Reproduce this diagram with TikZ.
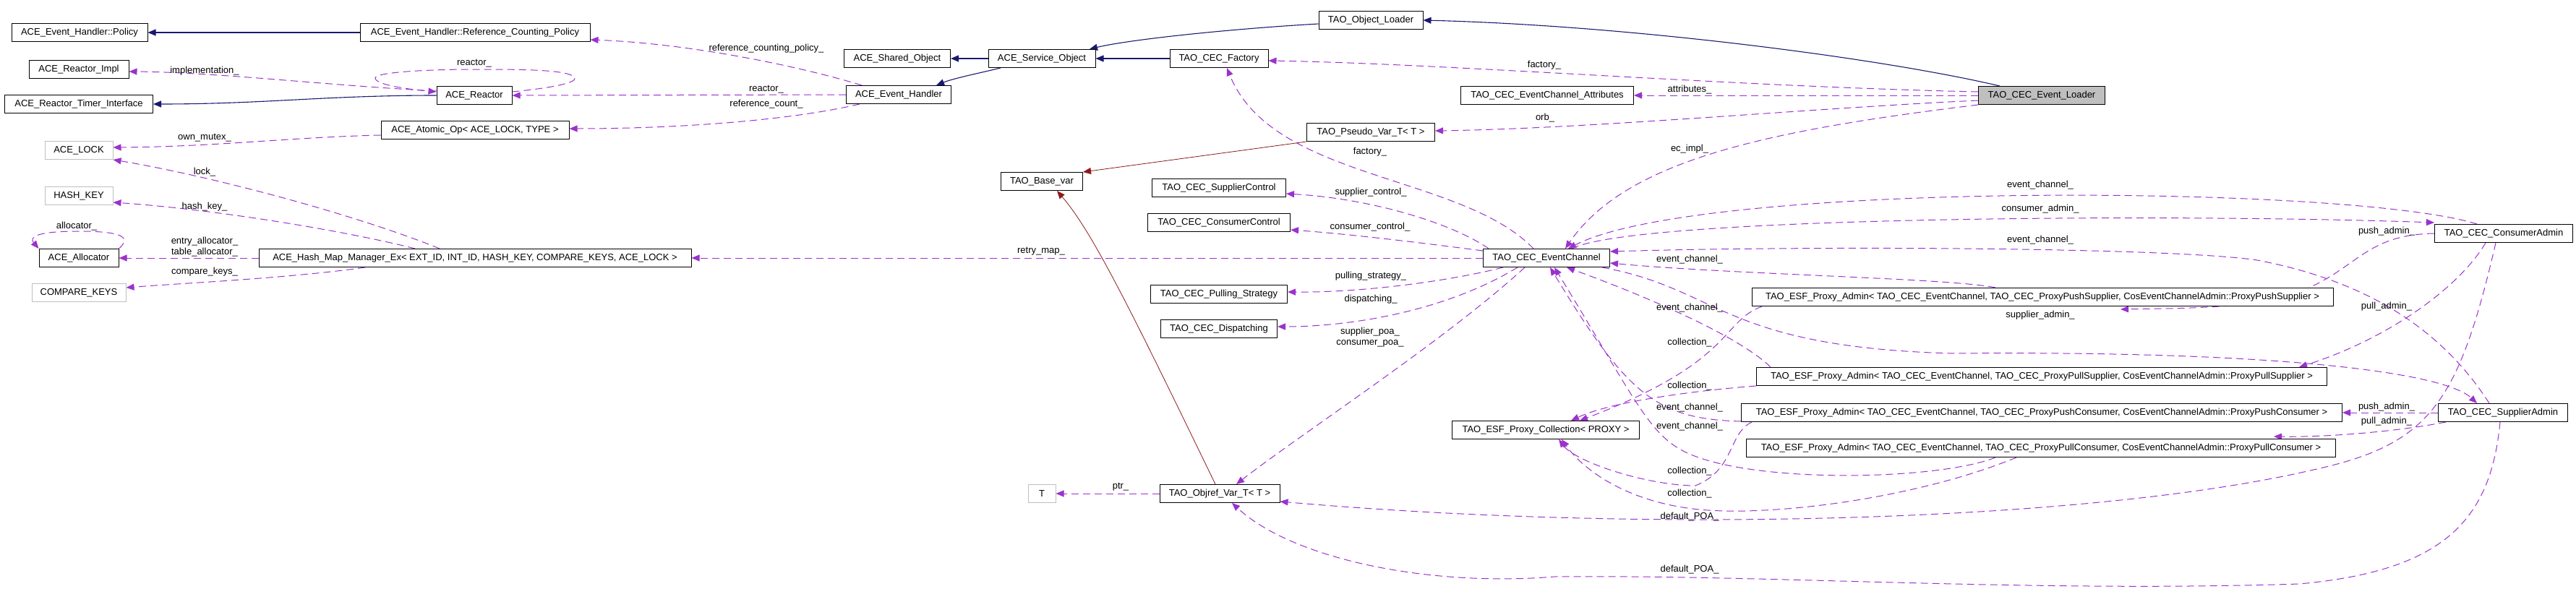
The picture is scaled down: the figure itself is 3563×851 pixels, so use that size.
\documentclass[tikz,border=0pt]{standalone}
\usepackage{fontspec}
\setmainfont{Liberation Sans}
\usetikzlibrary{shapes,arrows.meta,positioning}
\pgfdeclarelayer{edges}
\pgfsetlayers{edges,main}
\definecolor{inhblue}{HTML}{191970}
\definecolor{privred}{HTML}{8B1A1A}
\definecolor{memberpurple}{HTML}{9A32CD}
\definecolor{extgray}{HTML}{BFBFBF}

\begin{document}
\begin{tikzpicture}[x=1pt,y=-1pt,font=\fontsize{13pt}{15pt}\selectfont]
  \tikzset{
    cls/.style={draw=black, fill=white, line width=1pt, minimum height=25pt, inner xsep=3pt, inner ysep=0pt},
    ext/.style={cls, draw=extgray},
    root/.style={cls, fill=extgray},
    lbl/.style={draw=none, inner sep=0pt, align=center},
    inherit/.style={-{Triangle[length=11pt,width=9pt]}, draw=inhblue, line width=1.1pt},
    privinh/.style={-{Triangle[length=11pt,width=9pt]}, draw=privred, line width=0.8pt},
    member/.style={-{Triangle[length=11pt,width=9pt]}, draw=memberpurple, line width=1pt, dash pattern=on 10pt off 6pt},
  }
  \useasboundingbox (0,0) rectangle (3563,851);

  % classes
  \node[cls, minimum width=188pt] (policy) at (110,45) {ACE\_Event\_Handler::Policy};
  \node[cls, minimum width=318pt] (refpolicy) at (657,45) {ACE\_Event\_Handler::Reference\_Counting\_Policy};
  \node[cls, minimum width=138pt] (reactorimpl) at (109,96) {ACE\_Reactor\_Impl};
  \node[cls, minimum width=104pt] (reactor) at (656,132) {ACE\_Reactor};
  \node[cls, minimum width=205pt] (timer) at (109,144) {ACE\_Reactor\_Timer\_Interface};
  \node[cls, minimum width=260pt] (atomic) at (657,180) {ACE\_Atomic\_Op< ACE\_LOCK, TYPE >};
  \node[ext, minimum width=94pt] (acelock) at (109,208) {ACE\_LOCK};
  \node[ext, minimum width=94pt] (hashkey) at (109,271) {HASH\_KEY};
  \node[cls, minimum width=110pt] (allocator) at (109,357) {ACE\_Allocator};
  \node[ext, minimum width=130pt] (comparekeys) at (109,405) {COMPARE\_KEYS};
  \node[cls, minimum width=598pt] (hashmap) at (657,357) {ACE\_Hash\_Map\_Manager\_Ex< EXT\_ID, INT\_ID, HASH\_KEY, COMPARE\_KEYS, ACE\_LOCK >};
  \node[cls, minimum width=147pt] (shared) at (1241,81) {ACE\_Shared\_Object};
  \node[cls, minimum width=145pt] (handler) at (1243,131) {ACE\_Event\_Handler};
  \node[cls, minimum width=148pt] (service) at (1441,81) {ACE\_Service\_Object};
  \node[cls, minimum width=113pt] (basevar) at (1441,251) {TAO\_Base\_var};
  \node[ext, minimum width=38pt] (tparam) at (1441,683) {T};
  \node[cls, minimum width=136pt] (factory) at (1686,81) {TAO\_CEC\_Factory};
  \node[cls, minimum width=185pt] (supctl) at (1686,260) {TAO\_CEC\_SupplierControl};
  \node[cls, minimum width=197pt] (conctl) at (1686,308) {TAO\_CEC\_ConsumerControl};
  \node[cls, minimum width=189pt] (pulling) at (1686,407) {TAO\_CEC\_Pulling\_Strategy};
  \node[cls, minimum width=161pt] (dispatch) at (1686,455) {TAO\_CEC\_Dispatching};
  \node[cls, minimum width=166pt] (objref) at (1687,683) {TAO\_Objref\_Var\_T< T >};
  \node[cls, minimum width=144pt] (objloader) at (1896,28) {TAO\_Object\_Loader};
  \node[cls, minimum width=177pt] (pseudo) at (1896,183) {TAO\_Pseudo\_Var\_T< T >};
  \node[cls, minimum width=239pt] (attrs) at (2140,132) {TAO\_CEC\_EventChannel\_Attributes};
  \node[cls, minimum width=175pt] (channel) at (2139,357) {TAO\_CEC\_EventChannel};
  \node[cls, minimum width=259pt] (collection) at (2138,595) {TAO\_ESF\_Proxy\_Collection< PROXY >};
  \node[root, minimum width=175pt] (loader) at (2824,132) {TAO\_CEC\_Event\_Loader};
  \node[cls, minimum width=804pt] (pushsup) at (2825,411) {TAO\_ESF\_Proxy\_Admin< TAO\_CEC\_EventChannel, TAO\_CEC\_ProxyPushSupplier, CosEventChannelAdmin::ProxyPushSupplier >};
  \node[cls, minimum width=789pt] (pullsup) at (2824,521) {TAO\_ESF\_Proxy\_Admin< TAO\_CEC\_EventChannel, TAO\_CEC\_ProxyPullSupplier, CosEventChannelAdmin::ProxyPullSupplier >};
  \node[cls, minimum width=831pt] (pushcon) at (2824,571) {TAO\_ESF\_Proxy\_Admin< TAO\_CEC\_EventChannel, TAO\_CEC\_ProxyPushConsumer, CosEventChannelAdmin::ProxyPushConsumer >};
  \node[cls, minimum width=815pt] (pullcon) at (2823,620) {TAO\_ESF\_Proxy\_Admin< TAO\_CEC\_EventChannel, TAO\_CEC\_ProxyPullConsumer, CosEventChannelAdmin::ProxyPullConsumer >};
  \node[cls, minimum width=191pt] (conadmin) at (3463,323) {TAO\_CEC\_ConsumerAdmin};
  \node[cls, minimum width=179pt] (supadmin) at (3462,571) {TAO\_CEC\_SupplierAdmin};

  \begin{pgfonlayer}{edges}
    % inheritance
    \draw[inherit] (refpolicy.west) -- (policy.east);
    \draw[inherit] (reactor.west) to[out=180,in=0] (timer.east);
    \draw[inherit] (service.west) -- (shared.east);
    \draw[inherit] ([xshift=-57pt]service.south) .. controls (1360,100) and (1320,108) .. ([xshift=52pt]handler.north);
    \draw[inherit] (factory.west) -- (service.east);
    \draw[inherit] ([yshift=-5pt]objloader.west) .. controls (1700,40) and (1560,55) .. ([xshift=66pt]service.north);
    \draw[inherit] ([xshift=-58pt]loader.north) .. controls (2600,80) and (2250,35) .. (objloader.east);
    \draw[privinh] (pseudo.south west) -- (basevar.north east);
    \draw[privinh] ([xshift=-6pt]objref.north) .. controls (1560,420) and (1510,320) .. ([xshift=21pt]basevar.south);

    % ACE members
    \draw[member] ([xshift=-51pt]handler.north) .. controls (1100,90) and (950,60) .. ([yshift=-10pt]refpolicy.east);
    \draw[member] ([yshift=6pt]reactor.west) .. controls (450,118) and (300,100) .. ([yshift=-3pt]reactorimpl.east);
    \draw[member] ([yshift=5pt]reactor.east) .. controls (760,122) and (797,115) .. (795,108)
      .. controls (790,96) and (720,96) .. (656,96) .. controls (590,96) and (519,100) .. (519,108)
      .. controls (519,118) and (570,124) .. ([yshift=5pt]reactor.west);
    \draw[member] (handler.west) -- (reactor.east);
    \draw[member] ([xshift=-54pt]handler.south) .. controls (1100,165) and (950,178) .. ([yshift=2pt]atomic.east);
    \draw[member] ([yshift=-7pt]atomic.west) .. controls (400,190) and (300,203) .. ([yshift=4pt]acelock.east);
    \draw[member] ([xshift=-49pt]hashmap.north) .. controls (500,300) and (300,245) .. (acelock.south east);
    \draw[member] ([xshift=-83pt]hashmap.north) .. controls (480,320) and (300,290) .. ([yshift=-9pt]hashkey.east);
    \draw[member] (hashmap.west) -- (allocator.east);
    \draw[member] (allocator.north east) .. controls (180,330) and (175,320) .. (109,320)
      .. controls (50,320) and (40,328) .. (allocator.north west);
    \draw[member] ([xshift=-152pt]hashmap.south) .. controls (400,385) and (250,392) .. ([yshift=7pt]comparekeys.east);
    \draw[member] (channel.west) -- (hashmap.east);

    % loader and event channel members
    \draw[member] ([yshift=5pt]loader.west) .. controls (2400,120) and (2000,88) .. ([yshift=-3pt]factory.east);
    \draw[member] (loader.west) -- (attrs.east);
    \draw[member] ([yshift=-7pt]loader.west) .. controls (2500,150) and (2200,178) .. ([yshift=2pt]pseudo.east);
    \draw[member] (loader.south west) .. controls (2450,180) and (2250,220) .. ([xshift=26pt]channel.north);
    \draw[member] ([xshift=-18pt]channel.north) .. controls (2020,240) and (1760,250) .. ([xshift=11pt]factory.south);
    \draw[member] ([xshift=-80pt]channel.north) .. controls (2010,310) and (1900,275) .. ([yshift=-8pt]supctl.east);
    \draw[member] ([yshift=10pt]channel.west) .. controls (1980,338) and (1880,325) .. ([yshift=-10pt]conctl.east);
    \draw[member] ([xshift=-60pt]channel.south) .. controls (2000,390) and (1880,405) .. ([yshift=3pt]pulling.east);
    \draw[member] ([xshift=-40pt]channel.south) .. controls (2000,430) and (1870,452) .. ([yshift=3pt]dispatch.east);
    \draw[member] ([xshift=-30pt]channel.south) .. controls (2000,470) and (1800,600) .. ([xshift=23pt]objref.north);
    \draw[member] (objref.west) -- (tparam.east);

    % admins
    \draw[member] ([xshift=-37pt]conadmin.north) .. controls (3250,255) and (2350,250) .. ([xshift=30pt]channel.north);
    \draw[member] ([xshift=35pt]channel.north) .. controls (2260,300) and (3000,295) .. ([yshift=15pt]conadmin.west);
    \draw[member] ([xshift=-19pt]supadmin.north) .. controls (3380,460) and (3280,390) .. (3122,360)
      .. controls (3000,342) and (2500,340) .. ([yshift=9pt]channel.east);
    \draw[member] ([xshift=77pt]channel.south) .. controls (2380,400) and (2380,480) .. (2700,489)
      .. controls (3150,485) and (3380,515) .. ([xshift=-36pt]supadmin.north);
    \draw[member] (conadmin.west) .. controls (3250,325) and (3260,395) .. (3120,420)
      .. controls (3050,427) and (2990,427) .. ([xshift=108pt,yshift=-4pt]pushsup.south);
    \draw[member] ([xshift=-25pt]conadmin.south) .. controls (3400,400) and (3300,470) .. ([xshift=356pt]pullsup.north);
    \draw[member] ([xshift=-11pt]conadmin.south) .. controls (3400,560) and (3360,615) .. (3200,650)
      .. controls (2900,720) and (2300,740) .. ([yshift=-11pt]objref.east);
    \draw[member] ([xshift=-4pt]supadmin.south) .. controls (3445,720) and (3380,790) .. (3180,808)
      .. controls (2800,820) and (2450,795) .. (2150,798)
      .. controls (1980,812) and (1790,775) .. ([xshift=17pt]objref.south);
    \draw[member] (supadmin.west) -- (pushcon.east);
    \draw[member] ([xshift=-79pt]supadmin.south) .. controls (3300,600) and (3200,605) .. ([xshift=322pt,yshift=3pt]pullcon.north);

    % proxy admins
    \draw[member] ([xshift=-65pt]pushsup.north) .. controls (2700,385) and (2400,380) .. ([yshift=-7pt]channel.east);
    \draw[member] ([xshift=-388pt]pushsup.south) .. controls (2380,445) and (2400,500) .. ([xshift=47pt]collection.north);
    \draw[member] ([xshift=-375pt]pullsup.north) .. controls (2400,460) and (2250,400) .. ([xshift=28pt]channel.south);
    \draw[member] (pullsup.south west) .. controls (2350,540) and (2230,555) .. ([xshift=35pt]collection.north);
    \draw[member] ([yshift=-12pt]pushcon.west) .. controls (2290,580) and (2250,545) .. ([xshift=5pt]channel.south);
    \draw[member] ([xshift=-63pt]pullcon.south) .. controls (2680,665) and (2420,670) .. (2330,625)
      .. controls (2280,600) and (2260,550) .. ([xshift=11pt]channel.south);
    \draw[member] ([xshift=-401pt]pushcon.south) .. controls (2390,600) and (2400,650) .. (2345,672)
      .. controls (2280,672) and (2180,640) .. ([xshift=18pt]collection.south);
    \draw[member] ([xshift=-34pt]pullcon.south) .. controls (2650,690) and (2450,715) .. (2350,705)
      .. controls (2250,695) and (2190,650) .. ([xshift=22pt]collection.south);
  \end{pgfonlayer}

  % edge labels
  \node[lbl] (lrefpolicy) at (1060,67) {reference\_counting\_policy\_};
  \node[lbl] (limpl) at (283,98) {implementation\_};
  \node[lbl] (lreactorloop) at (656,88) {reactor\_};
  \node[lbl] (lreactor) at (1060,124) {reactor\_};
  \node[lbl] (lrefcount) at (1060,144) {reference\_count\_};
  \node[lbl] (lmutex) at (283,191) {own\_mutex\_};
  \node[lbl] (llock) at (283,238) {lock\_};
  \node[lbl] (lhashkey) at (283,286) {hash\_key\_};
  \node[lbl] (lalloc) at (106,313) {allocator\_};
  \node[lbl] (lentry) at (283,342) {entry\_allocator\_\\table\_allocator\_};
  \node[lbl] (lcompare) at (283,376) {compare\_keys\_};
  \node[lbl] (lretry) at (1440,348) {retry\_map\_};
  \node[lbl] (lptr) at (1550,674) {ptr\_};
  \node[lbl] (lfactory) at (2136,90) {factory\_};
  \node[lbl] (lattrs) at (2337,124) {attributes\_};
  \node[lbl] (lorb) at (2137,163) {orb\_};
  \node[lbl] (lecimpl) at (2337,206) {ec\_impl\_};
  \node[lbl] (lfactory2) at (1895,210) {factory\_};
  \node[lbl] (lsupctl) at (1896,266) {supplier\_control\_};
  \node[lbl] (lconctl) at (1895,314) {consumer\_control\_};
  \node[lbl] (lpulling) at (1896,382) {pulling\_strategy\_};
  \node[lbl] (ldispatch) at (1896,414) {dispatching\_};
  \node[lbl] (lpoa) at (1895,467) {supplier\_poa\_\\consumer\_poa\_};
  \node[lbl] (lecca) at (2822,256) {event\_channel\_};
  \node[lbl] (lconadmin) at (2822,289) {consumer\_admin\_};
  \node[lbl] (lecsa) at (2822,332) {event\_channel\_};
  \node[lbl] (lsupadmin) at (2822,436) {supplier\_admin\_};
  \node[lbl] (lpushca) at (3301,320) {push\_admin\_};
  \node[lbl] (lpullca) at (3301,424) {pull\_admin\_};
  \node[lbl] (lpushsa) at (3301,563) {push\_admin\_};
  \node[lbl] (lpullsa) at (3301,583) {pull\_admin\_};
  \node[lbl] (lec1) at (2337,359) {event\_channel\_};
  \node[lbl] (lec2) at (2337,426) {event\_channel\_};
  \node[lbl] (lcoll1) at (2337,474) {collection\_};
  \node[lbl] (lcoll2) at (2337,534) {collection\_};
  \node[lbl] (lec3) at (2337,564) {event\_channel\_};
  \node[lbl] (lec4) at (2337,590) {event\_channel\_};
  \node[lbl] (lcoll3) at (2337,652) {collection\_};
  \node[lbl] (lcoll4) at (2337,683) {collection\_};
  \node[lbl] (lpoa1) at (2337,715) {default\_POA\_};
  \node[lbl] (lpoa2) at (2337,788) {default\_POA\_};
\end{tikzpicture}
\end{document}
